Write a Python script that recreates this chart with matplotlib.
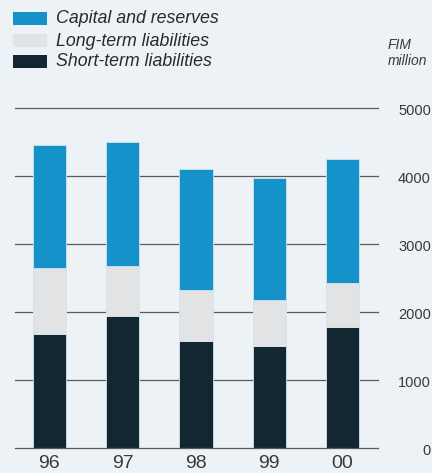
import matplotlib
matplotlib.use("Agg")
import matplotlib.pyplot as plt
from matplotlib.patches import Rectangle
from matplotlib.transforms import blended_transform_factory
import numpy as np

plt.rcParams['font.family'] = ['Liberation Sans', 'DejaVu Sans']

# Balance sheet structure, FIM million
years = ["96", "97", "98", "99", "00"]
short_term = [1680, 1940, 1580, 1500, 1775]
long_term = [960, 740, 740, 680, 650]
capital = [1820, 1820, 1780, 1790, 1830]

series_names = ["Capital and reserves", "Long-term liabilities", "Short-term liabilities"]
y_ticks = [0, 1000, 2000, 3000, 4000, 5000]

c_capital = "#1592CA"
c_long = "#E2E3E5"
c_short = "#132733"
bg = "#EDF2F6"
grid_c = "#5A5B5D"
text_c = "#3A3A3A"

W, H = 432, 473
fig = plt.figure(figsize=(W / 100, H / 100), dpi=100, facecolor=bg)
ax = fig.add_axes([15 / W, (H - 448) / H, (378 - 15) / W, (448 - 108) / H])
ax.set_facecolor(bg)

x = np.arange(len(years))
width = 0.455
edge = dict(edgecolor="#D3E3EC", linewidth=0.6)

for t in y_ticks:
    ax.axhline(t, color=grid_c, linewidth=0.9, zorder=3 if t == 0 else 0,
               clip_on=False)

s = np.array(short_term)
l = np.array(long_term)
c = np.array(capital)
ax.bar(x, s, width, color=c_short, zorder=2, **edge)
ax.bar(x, l, width, bottom=s, color=c_long, zorder=2, **edge)
ax.bar(x, c, width, bottom=s + l, color=c_capital, zorder=2, **edge)

ax.set_xlim(-0.468, 4.484)
ax.set_ylim(0, 5000)
ax.axis("off")

# value scale on the right
trans_right = blended_transform_factory(fig.transFigure, ax.transData)
for t in y_ticks:
    ax.text(431 / W, t - 40, str(t), transform=trans_right, ha="right", va="center",
            fontsize=10.5, color=text_c, clip_on=False)

# year labels below bars
trans_bottom = blended_transform_factory(ax.transData, fig.transFigure)
for xi, yr in zip(x, years):
    ax.text(xi, (H - 463) / H, yr, transform=trans_bottom,
            ha="center", va="center", fontsize=14, color=text_c)

# unit label
fig.text(388 / W, 1 - 45 / H, "FIM", fontsize=10, style="italic", color=text_c,
         ha="left", va="center")
fig.text(388 / W, 1 - 61 / H, "million", fontsize=10, style="italic", color=text_c,
         ha="left", va="center")

# legend
legend_colors = [c_capital, c_long, c_short]
row_centers = [18.5, 41, 62]
for name, col, yc in zip(series_names, legend_colors, row_centers):
    fig.patches.append(Rectangle((13 / W, 1 - (yc + 6.5) / H), 34 / W, 13 / H,
                                 transform=fig.transFigure, facecolor=col,
                                 edgecolor="none"))
    fig.text(56 / W, 1 - yc / H, name, fontsize=12.8, style="italic",
             color="#2A2A2A", ha="left", va="center")

fig.savefig("out.png", dpi=100, facecolor=bg)
